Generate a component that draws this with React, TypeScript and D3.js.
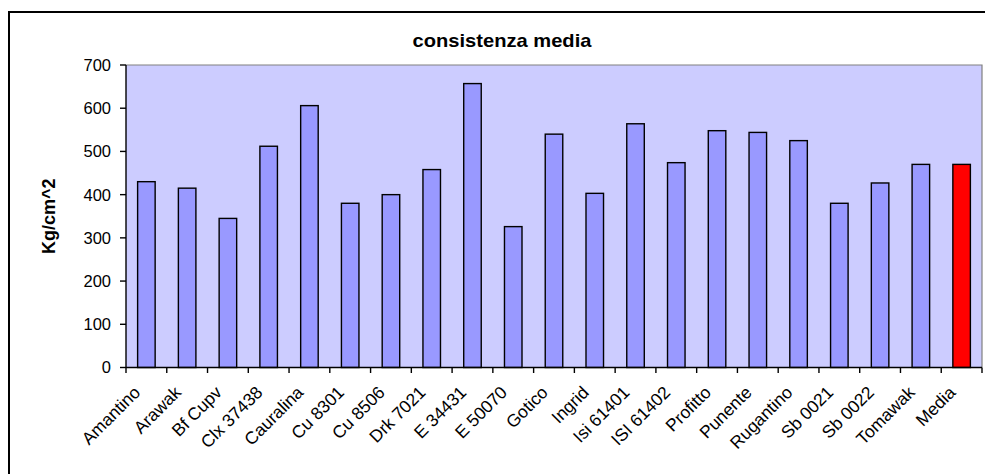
import React from "react";
import * as d3 from "d3";

// Varieties, with the overall mean as the last category
const categories: string[] = [
  "Amantino", "Arawak", "Bf Cupv", "Clx 37438", "Cauralina", "Cu 8301",
  "Cu 8506", "Drk 7021", "E 34431", "E 50070", "Gotico", "Ingrid",
  "Isi 61401", "ISI 61402", "Profitto", "Punente", "Rugantino", "Sb 0021",
  "Sb 0022", "Tomawak", "Media",
];

// Mean firmness, Kg/cm^2
const values: number[] = [
  430, 415, 345, 512, 606, 380, 400, 458, 657, 326, 540, 403,
  564, 474, 548, 544, 525, 380, 427, 470, 470,
];

const yTicks: number[] = [0, 100, 200, 300, 400, 500, 600, 700];

const title = "consistenza media";
const yTitle = "Kg/cm^2";

const W = 985;
const H = 474;
const plot = { left: 126, right: 982, top: 65, bottom: 367.5 };
const FONT = "'Liberation Sans', Arial, sans-serif";

export default function App() {
  const x = d3
    .scaleBand<string>()
    .domain(categories)
    .range([plot.left, plot.right])
    .paddingInner(0.57)
    .paddingOuter(0.285);
  const y = d3.scaleLinear().domain([0, 700]).range([plot.bottom, plot.top]);
  const step = x.step();
  const bounds = d3.range(categories.length + 1).map((i) => plot.left + i * step);

  return (
    <svg
      width={W}
      height={H}
      style={{ position: "absolute", left: 0, top: 0, background: "#fff" }}
      fontFamily={FONT}
    >
      {/* chart area frame */}
      <rect x={9} y={12} width={1100} height={600} fill="#fff" stroke="#000" strokeWidth={2} />

      {/* title */}
      <text
        transform={`translate(502,46.7) scale(1.15,1)`}
        textAnchor="middle"
        fontWeight="bold"
        fontSize={17.5}
        fill="#000"
      >
        {title}
      </text>

      {/* plot background */}
      <rect
        x={plot.left}
        y={plot.top}
        width={plot.right - plot.left}
        height={plot.bottom - plot.top}
        fill="#CCCCFF"
      />
      <path
        d={`M${plot.left},${plot.top}H${plot.right}V${plot.bottom}`}
        fill="none"
        stroke="#808080"
        strokeWidth={1.2}
      />

      {/* bars */}
      {categories.map((c, i) => (
        <rect
          key={c}
          x={x(c)}
          y={y(values[i])}
          width={x.bandwidth()}
          height={y(0) - y(values[i])}
          fill={c === "Media" ? "#FF0000" : "#9999FF"}
          stroke="#000"
          strokeWidth={1.4}
        />
      ))}

      {/* y axis */}
      <line x1={plot.left} x2={plot.left} y1={plot.top} y2={plot.bottom} stroke="#000" strokeWidth={1.4} />
      {yTicks.map((t) => (
        <g key={t}>
          <line x1={plot.left - 6} x2={plot.left} y1={y(t)} y2={y(t)} stroke="#000" strokeWidth={1.4} />
          <text x={111} y={y(t)} dy="0.36em" textAnchor="end" fontSize={16.5} fill="#000">
            {t}
          </text>
        </g>
      ))}

      {/* x axis */}
      <line x1={plot.left} x2={plot.right} y1={plot.bottom} y2={plot.bottom} stroke="#000" strokeWidth={1.4} />
      {bounds.map((b, i) => (
        <line key={i} x1={b} x2={b} y1={plot.bottom} y2={plot.bottom + 5.5} stroke="#000" strokeWidth={1.4} />
      ))}
      {categories.map((c) => {
        const cx = (x(c) as number) + x.bandwidth() / 2;
        return (
          <text
            key={c}
            transform={`translate(${cx - 5},${plot.bottom + 26}) rotate(-45)`}
            textAnchor="end"
            fontSize={17.5}
            fill="#000"
          >
            {c}
          </text>
        );
      })}

      {/* y axis title */}
      <text
        transform={`translate(55,${(plot.top + plot.bottom) / 2}) rotate(-90)`}
        textAnchor="middle"
        fontWeight="bold"
        fontSize={18}
        fill="#000"
      >
        {yTitle}
      </text>
    </svg>
  );
}
